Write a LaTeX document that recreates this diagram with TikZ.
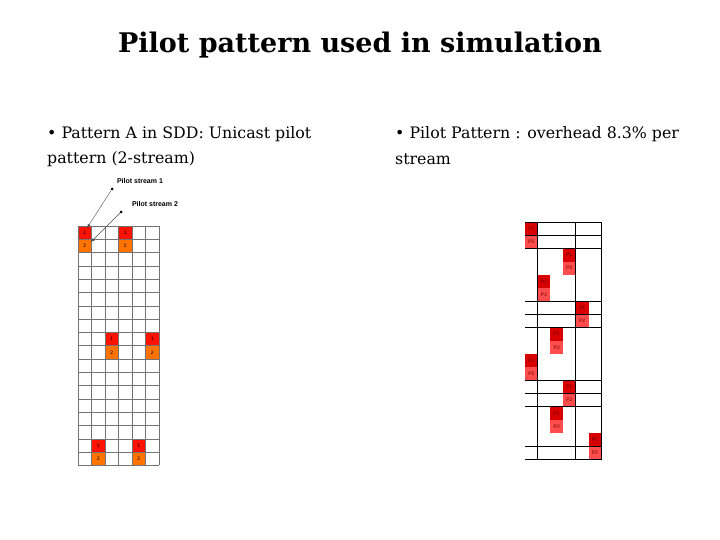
\documentclass[tikz,border=0pt]{standalone}
\usepackage{fontspec}
\setmainfont{DejaVu Serif}
\newfontfamily\arialf{Liberation Sans}
\begin{document}
\begin{tikzpicture}[x=1pt,y=-1pt,
  txt/.style={anchor=west,inner sep=0pt,font=\fontsize{15.8}{20}\selectfont},
  pone/.style={fill=red!85!orange,draw=none},
  ptwo/.style={fill=orange!90!red,draw=none},
  qone/.style={fill=red!85!black},
  qtwo/.style={fill=red!70!white},
  lbl/.style={font=\arialf\fontsize{5}{5}\selectfont,inner sep=0pt},
  dotnode/.style={circle,fill=black,inner sep=0pt,minimum size=3pt}]
\useasboundingbox (0,0) rectangle (720,540);
\node[font=\bfseries\fontsize{27}{32}\selectfont] (title) at (360,45) {Pilot pattern used in simulation};
\node[txt] (l1) at (47,134) {• Pattern A in SDD: Unicast pilot};
\node[txt] (l2) at (47,159) {pattern (2-stream)};
\node[txt] (r1) at (395,134) {• Pilot Pattern : overhead 8.3\% per};
\node[txt] (r2) at (395,159) {stream};
% left grid
\def\cw{13.5}\def\rh{13.3}
\foreach \r/\c in {0/0,0/3,8/2,8/5,16/1,16/4}{
  \fill[pone] (78+\c*\cw,226+\r*\rh) rectangle ++(\cw,\rh);
  \fill[ptwo] (78+\c*\cw,226+\r*\rh+\rh) rectangle ++(\cw,\rh);
  \node[lbl] at (78+\c*\cw+\cw/2,226+\r*\rh+\rh/2) {1};
  \node[lbl] at (78+\c*\cw+\cw/2,226+\r*\rh+1.5*\rh) {2};
}
\foreach \i in {0,...,6} \draw[gray!90!black,line width=0.6pt] (78+\i*\cw,226) -- (78+\i*\cw,465.4);
\foreach \j in {0,...,18} \draw[gray!90!black,line width=0.6pt] (78,226+\j*\rh) -- (159,226+\j*\rh);
\node[font=\arialf\bfseries\fontsize{7}{8}\selectfont] (ps1) at (140,181) {Pilot stream 1};
\node[font=\arialf\bfseries\fontsize{7}{8}\selectfont] (ps2) at (155,204) {Pilot stream 2};
\node[dotnode] (d1) at (112,189) {};
\node[dotnode] (d2) at (121,212) {};
\coordinate (e1) at (87,228);
\coordinate (e2) at (91,242);
\draw[-latex,thin,gray!60!black] (d1) -- (e1);
\draw[-latex,thin,gray!60!black] (d2) -- (e2);
% right grid
\def\qw{12.7}\def\qh{13.2}
\foreach \r/\c in {0/0,2/3,4/1,6/4,8/2,10/0,12/3,14/2,16/5}{
  \fill[qone] (525+\c*\qw,222+\r*\qh) rectangle ++(\qw,\qh);
  \fill[qtwo] (525+\c*\qw,222+\r*\qh+\qh) rectangle ++(\qw,\qh);
  \node[lbl,text=red!40!black] at (525+\c*\qw+\qw/2,222+\r*\qh+\qh/2) {P1};
  \node[lbl,text=red!40!black] at (525+\c*\qw+\qw/2,222+\r*\qh+1.5*\qh) {P2};
}
\foreach \i in {1,4,6} \draw[line width=0.8pt] (525+\i*\qw,222) -- (525+\i*\qw,459.6);
\foreach \j in {0,1,2,6,7,8,12,13,14,17,18} \draw[line width=0.8pt] (525,222+\j*\qh) -- (601.2,222+\j*\qh);
\end{tikzpicture}
\end{document}
